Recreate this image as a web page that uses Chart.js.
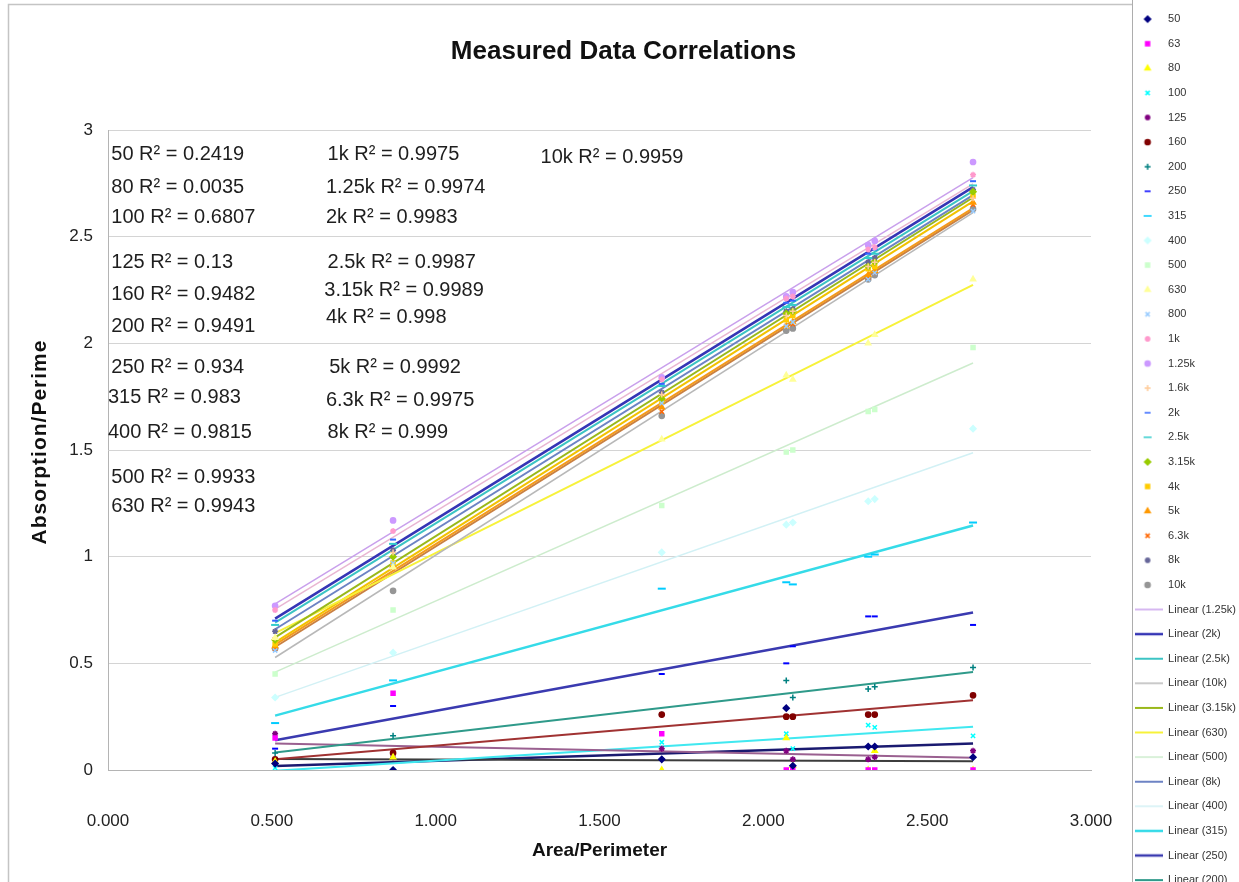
<!DOCTYPE html>
<html lang="en">
<head>
<meta charset="UTF-8">
<title>Measured Data Correlations</title>
<script src="https://cdn.jsdelivr.net/npm/chart.js"></script>
<style>
  html,body{margin:0;padding:0;background:#fff;overflow:hidden}
  #wrap{position:relative;width:1239px;height:920px}
</style>
</head>
<body>
<div id="wrap"><canvas id="chart" width="1239" height="920"></canvas></div>
<script>
// x: area / perimeter of each measured sample
const areaPerimeter = [0.51, 0.87, 1.69, 2.07, 2.09, 2.32, 2.34, 2.64];

// absorption / perimeter per third-octave band
const abs50   = [0.03, 0.00, 0.05, 0.29, 0.02, 0.11, 0.11, 0.06];
const abs63   = [0.15, 0.36, 0.17, 0.00, 0.00, 0.00, 0.00, 0.00];
const abs80   = [0.04, 0.06, 0.00, 0.15, 0.02, 0.00, 0.09, 0.00];
const abs100  = [0.01, 0.00, 0.13, 0.17, 0.10, 0.21, 0.20, 0.16];
const abs125  = [0.17, 0.06, 0.10, 0.09, 0.05, 0.05, 0.06, 0.09];
const abs160  = [0.05, 0.08, 0.26, 0.25, 0.25, 0.26, 0.26, 0.35];
const abs200  = [0.08, 0.16, 0.26, 0.42, 0.34, 0.38, 0.39, 0.48];
const abs250  = [0.10, 0.30, 0.45, 0.50, 0.58, 0.72, 0.72, 0.68];
const abs315  = [0.22, 0.42, 0.85, 0.88, 0.87, 1.00, 1.01, 1.16];
const abs400  = [0.34, 0.55, 1.02, 1.15, 1.16, 1.26, 1.27, 1.60];
const abs500  = [0.45, 0.75, 1.24, 1.49, 1.50, 1.68, 1.69, 1.98];
const abs630  = [0.62, 0.95, 1.55, 1.85, 1.83, 2.00, 2.04, 2.30];
const abs800  = [0.56, 0.97, 1.72, 2.08, 2.10, 2.30, 2.33, 2.62];
const abs1k   = [0.75, 1.12, 1.83, 2.21, 2.22, 2.44, 2.45, 2.79];
const abs1k25 = [0.77, 1.17, 1.84, 2.22, 2.24, 2.46, 2.48, 2.85];
const abs1k6  = [0.62, 1.02, 1.76, 2.13, 2.15, 2.36, 2.38, 2.68];
const abs2k   = [0.70, 1.08, 1.81, 2.19, 2.20, 2.42, 2.44, 2.76];
const abs2k5  = [0.68, 1.06, 1.80, 2.17, 2.18, 2.40, 2.42, 2.74];
const abs3k15 = [0.61, 1.00, 1.74, 2.14, 2.15, 2.36, 2.38, 2.71];
const abs4k   = [0.59, 0.97, 1.73, 2.11, 2.13, 2.35, 2.36, 2.69];
const abs5k   = [0.58, 0.96, 1.70, 2.08, 2.10, 2.32, 2.34, 2.66];
const abs6k3  = [0.57, 0.95, 1.68, 2.08, 2.09, 2.31, 2.33, 2.65];
const abs8k   = [0.65, 1.03, 1.77, 2.15, 2.16, 2.38, 2.40, 2.72];
const abs10k  = [0.57, 0.84, 1.66, 2.06, 2.07, 2.30, 2.32, 2.63];

const bands = ['50', '63', '80', '100', '125', '160', '200', '250', '315', '400', '500', '630',
               '800', '1k', '1.25k', '1.6k', '2k', '2.5k', '3.15k', '4k', '5k', '6.3k', '8k', '10k'];
const bandValues = [abs50, abs63, abs80, abs100, abs125, abs160, abs200, abs250, abs315, abs400, abs500, abs630,
                    abs800, abs1k, abs1k25, abs1k6, abs2k, abs2k5, abs3k15, abs4k, abs5k, abs6k3, abs8k, abs10k];

// bands with a linear trendline, in legend order
const trendBands = ['1.25k', '2k', '2.5k', '10k', '3.15k', '630', '500', '8k', '400', '315', '250', '200',
                    '160', '125', '100', '80', '50', '1k', '4k', '5k', '6.3k'];

// R² labels placed on the plot
const r2Bands  = ['50', '80', '100', '125', '160', '200', '250', '315', '400', '500', '630',
                  '1k', '1.25k', '2k', '2.5k', '3.15k', '4k', '5k', '6.3k', '8k', '10k'];
const r2Values = ['0.2419', '0.0035', '0.6807', '0.13', '0.9482', '0.9491', '0.934', '0.983', '0.9815', '0.9933', '0.9943',
                  '0.9975', '0.9974', '0.9983', '0.9987', '0.9989', '0.998', '0.9992', '0.9975', '0.999', '0.9959'];

const FONT = "'Liberation Sans', Arial, sans-serif";

// marker look per band: colour, point style, radius
const markerStyle = {
  '50': ['#000080', 'rectRot', 3], '63': ['#ff00ff', 'rect', 2.8], '80': ['#ffff00', 'triangle', 3],
  '100': ['#00ffff', 'crossRot', 3], '125': ['#800080', 'star', 3], '160': ['#800000', 'circle', 2.6],
  '200': ['#008080', 'cross', 3], '250': ['#0000ff', 'line', 3], '315': ['#00ccff', 'line', 4],
  '400': ['#ccffff', 'rectRot', 3], '500': ['#ccffcc', 'rect', 2.8], '630': ['#ffff99', 'triangle', 3],
  '800': ['#99ccff', 'crossRot', 3], '1k': ['#ff99cc', 'star', 3], '1.25k': ['#cc99ff', 'circle', 2.6],
  '1.6k': ['#ffcc99', 'cross', 3], '2k': ['#3366ff', 'line', 3], '2.5k': ['#33cccc', 'line', 4],
  '3.15k': ['#99cc00', 'rectRot', 3], '4k': ['#ffcc00', 'rect', 2.8], '5k': ['#ff9900', 'triangle', 3],
  '6.3k': ['#ff6600', 'crossRot', 3], '8k': ['#666699', 'star', 3], '10k': ['#969696', 'circle', 2.6]
};
const trendStyle = {
  '1.25k': ['#c9a0ec', 1.5], '2k': ['#3535b5', 2.5], '2.5k': ['#3cc4c4', 2], '10k': ['#b8b8b8', 1.5],
  '3.15k': ['#99b81a', 2], '630': ['#f7f23a', 2], '500': ['#cdeccd', 1.5], '8k': ['#6d83c4', 2],
  '400': ['#d2f1f5', 1.5], '315': ['#35dbe8', 2.5], '250': ['#3a3ab0', 2.5], '200': ['#2f9a8a', 2],
  '160': ['#a03232', 2], '125': ['#9a6090', 2], '100': ['#40e8f0', 2], '80': ['#3c3c3c', 2],
  '50': ['#1a1a70', 2.5], '1k': ['#e9b6d2', 1.5], '4k': ['#f2c200', 2], '5k': ['#f39a1c', 2], '6.3k': ['#c98042', 2]
};

function markerIcon(style, color, r) {
  const c = document.createElement('canvas');
  c.width = 28; c.height = 14;
  const g = c.getContext('2d');
  g.fillStyle = color; g.strokeStyle = color; g.lineWidth = 1.5;
  Chart.helpers.drawPoint(g, { pointStyle: style, radius: r, borderWidth: 1.5, rotation: 0 }, 13, 7);
  return c;
}
function lineIcon(color, w) {
  const c = document.createElement('canvas');
  c.width = 28; c.height = 6;
  const g = c.getContext('2d');
  g.strokeStyle = color; g.lineWidth = w;
  g.beginPath(); g.moveTo(0, 3); g.lineTo(28, 3); g.stroke();
  return c;
}

// least squares fit over the measured points
function linearFit(xs, ys) {
  const n = xs.length;
  const mx = xs.reduce((a, b) => a + b, 0) / n;
  const my = ys.reduce((a, b) => a + b, 0) / n;
  let sxy = 0, sxx = 0;
  xs.forEach((x, i) => { sxy += (x - mx) * (ys[i] - my); sxx += (x - mx) * (x - mx); });
  const b = sxy / sxx;
  return { a: my - b * mx, b };
}

const datasets = [];
bands.forEach((band, i) => {
  const [color, style, r] = markerStyle[band];
  datasets.push({
    label: band,
    data: areaPerimeter.map((x, j) => ({ x, y: bandValues[i][j] })),
    backgroundColor: color, borderColor: color, borderWidth: style === 'line' ? 2 : 1.5,
    pointStyle: style, pointRadius: r, showLine: false,
    legendIcon: markerIcon(style, color, r)
  });
});
trendBands.forEach(band => {
  const ys = bandValues[bands.indexOf(band)];
  const fit = linearFit(areaPerimeter, ys);
  const x0 = areaPerimeter[0], x1 = areaPerimeter[areaPerimeter.length - 1];
  const [color, w] = trendStyle[band];
  datasets.push({
    label: 'Linear (' + band + ')',
    data: [{ x: x0, y: fit.a + fit.b * x0 }, { x: x1, y: fit.a + fit.b * x1 }],
    borderColor: color, backgroundColor: color, borderWidth: w,
    pointRadius: 0, showLine: true, fill: false,
    legendIcon: lineIcon(color, w)
  });
});

// positions of the R² labels, in axis units (same order as r2Bands)
const r2Slots = [
  [0.01, 2.883], [0.01, 2.73], [0.01, 2.588], [0.01, 2.381], [0.01, 2.227], [0.01, 2.077],
  [0.01, 1.889], [0.0, 1.744], [0.0, 1.584], [0.01, 1.373], [0.01, 1.233],
  [0.67, 2.883], [0.665, 2.73], [0.665, 2.588], [0.67, 2.381], [0.66, 2.25], [0.665, 2.119],
  [0.675, 1.889], [0.665, 1.734], [0.67, 1.584], [1.32, 2.869]
];

const decor = {
  id: 'decor',
  afterDraw(chart) {
    const { ctx, chartArea, scales: { x, y } } = chart;
    ctx.save();
    // chart frame and legend frame
    const lx = Math.round(chart.legend.left + chart.legend.options.labels.padding - 3) + 0.5;
    ctx.strokeStyle = '#c4c4c4'; ctx.lineWidth = 1.5;
    ctx.beginPath(); ctx.moveTo(8.5, chart.height); ctx.lineTo(8.5, 4.5); ctx.lineTo(lx, 4.5); ctx.stroke();
    ctx.strokeStyle = '#adadad'; ctx.lineWidth = 1;
    ctx.beginPath(); ctx.moveTo(lx, 0); ctx.lineTo(lx, chart.height); ctx.stroke();

    // R² labels
    ctx.font = '20px ' + FONT;
    ctx.fillStyle = '#1e1e1e'; ctx.textBaseline = 'middle'; ctx.textAlign = 'left';
    r2Bands.forEach((band, i) => {
      const [vx, vy] = r2Slots[i];
      ctx.fillText(band + ' R\u00b2 = ' + r2Values[i], x.getPixelForValue(vx), y.getPixelForValue(vy));
    });

    // x axis title
    ctx.font = 'bold 19px ' + FONT;
    ctx.textAlign = 'center';
    ctx.fillStyle = '#111';
    ctx.fillText('Area/Perimeter', (chartArea.left + chartArea.right) / 2, chartArea.bottom + 81);

    // y axis title (cut short as in the source chart)
    ctx.translate(40, (chartArea.top + chartArea.bottom) / 2 - 8);
    ctx.rotate(-Math.PI / 2);
    ctx.font = 'bold 21px ' + FONT;
    ctx.letterSpacing = '1px';
    ctx.fillText('Absorption/Perime', 0, 0);
    ctx.restore();
  }
};

Chart.defaults.font.family = FONT;

new Chart(document.getElementById('chart'), {
  type: 'scatter',
  data: { datasets },
  options: {
    responsive: false,
    animation: false,
    events: [],
    layout: { padding: { left: 8, right: 0, top: 0, bottom: 0 } },
    scales: {
      x: {
        type: 'linear', min: 0, max: 3,
        ticks: { stepSize: 0.5, padding: 41, autoSkip: false, maxRotation: 0,
                 font: { size: 17 }, color: '#222', callback: v => Number(v).toFixed(3) },
        grid: { display: false, drawTicks: false },
        border: { display: true, color: '#b4b4b4' },
        afterFit(s) { s.height = 150; }
      },
      y: {
        min: 0, max: 3,
        ticks: { stepSize: 0.5, padding: 15, font: { size: 17 }, color: '#222', callback: v => String(v) },
        grid: { color: '#d4d4d4', drawTicks: false },
        border: { display: true, color: '#b4b4b4' },
        afterFit(s) { s.width = 100; }
      },
      y2: {
        position: 'right', display: true,
        grid: { display: false, drawTicks: false },
        border: { display: false },
        ticks: { display: false },
        afterFit(s) { s.width = 30; }
      }
    },
    plugins: {
      tooltip: { enabled: false },
      title: {
        display: true, text: 'Measured Data Correlations', color: '#111',
        font: { size: 26, weight: 'bold' }, padding: { top: 36.4, bottom: 62.4 }
      },
      legend: {
        position: 'right', align: 'start', maxWidth: 118,
        labels: {
          usePointStyle: true, pointStyleWidth: 28, boxHeight: 11, padding: 13.6,
          font: { size: 11 }, color: '#333',
          generateLabels(chart) {
            return chart.data.datasets.map((ds, i) => ({
              text: ds.label, pointStyle: ds.legendIcon, datasetIndex: i, hidden: false,
              fillStyle: 'rgba(0,0,0,0)', strokeStyle: 'rgba(0,0,0,0)', lineWidth: 0, fontColor: '#333'
            })).slice(0, 36);
          }
        }
      }
    }
  },
  plugins: [decor]
});
</script>
</body>
</html>
